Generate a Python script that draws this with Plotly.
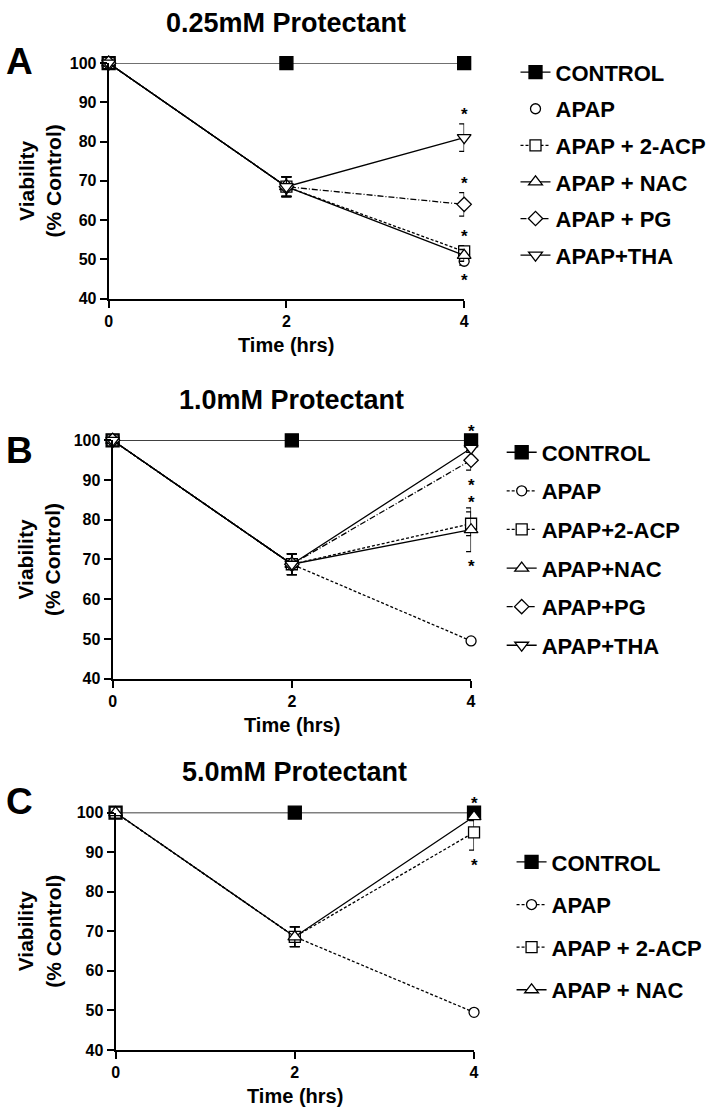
import plotly.graph_objects as go

W, H = 718, 1118
FONT = "Liberation Sans, Arial, sans-serif"

time = [0, 2, 4]
x_ticks = [0, 2, 4]
y_ticks = [40, 50, 60, 70, 80, 90, 100]

# ---- Panel A : 0.25 mM protectant ----
A_control = [100, 100, 100]
A_apap = [100, 68.5, 49.5]
A_acp = [100, 68.5, 52.0]
A_nac = [100, 68.5, 51.0]
A_pg = [100, 68.5, 64.0]
A_tha = [100, 68.5, 81.0]
A_apap_err = [0, 2.5, 1.0]
A_acp_err = [0, 2.5, 1.5]
A_nac_err = [0, 2.5, 1.5]
A_pg_err = [0, 2.5, 3.0]
A_tha_err = [0, 2.5, 3.5]
A_labels = ["CONTROL", "APAP", "APAP + 2-ACP", "APAP + NAC", "APAP + PG", "APAP+THA"]
A_stars = [("tha", "up"), ("pg", "up"), ("acp", "up"), ("apap", "down")]

# ---- Panel B : 1.0 mM protectant ----
B_control = [100, 100, 100]
B_apap = [100, 68.8, 49.5]
B_acp = [100, 68.8, 79.0]
B_nac = [100, 68.8, 77.5]
B_pg = [100, 68.8, 95.0]
B_tha = [100, 68.8, 98.0]
B_apap_err = [0, 2.6, 0.5]
B_acp_err = [0, 2.6, 3.0]
B_nac_err = [0, 2.6, 5.5]
B_pg_err = [0, 2.6, 2.5]
B_tha_err = [0, 2.6, 1.0]
B_labels = ["CONTROL", "APAP", "APAP+2-ACP", "APAP+NAC", "APAP+PG", "APAP+THA"]
B_stars = [("control", "up"), ("pg", "down"), ("acp", "up"), ("nac", "down")]

# ---- Panel C : 5.0 mM protectant ----
C_control = [100, 100, 100]
C_apap = [100, 68.6, 49.5]
C_acp = [100, 68.6, 95.0]
C_nac = [100, 68.6, 99.0]
C_apap_err = [0, 2.5, 0.5]
C_acp_err = [0, 2.5, 4.5]
C_nac_err = [0, 2.5, 1.0]
C_labels = ["CONTROL", "APAP", "APAP + 2-ACP", "APAP + NAC"]
C_stars = [("control", "up"), ("acp", "down")]

styles = {
    "control": dict(symbol="square", fill="black", size=13, dash="solid"),
    "apap": dict(symbol="circle", fill="white", size=10, dash="3px,2px"),
    "acp": dict(symbol="square", fill="white", size=11, dash="3px,2px"),
    "nac": dict(symbol="triangle-up", fill="white", size=12, dash="solid"),
    "pg": dict(symbol="diamond", fill="white", size=11, dash="6px,2px,1px,2px"),
    "tha": dict(symbol="triangle-down", fill="white", size=12, dash="solid"),
}

panels = [
    dict(key="A", title="0.25mM Protectant", xa="x", ya="y", leg="legend",
         keys=["control", "apap", "acp", "nac", "pg", "tha"],
         ys=[A_control, A_apap, A_acp, A_nac, A_pg, A_tha],
         errs=[None, A_apap_err, A_acp_err, A_nac_err, A_pg_err, A_tha_err],
         labels=A_labels, stars=A_stars, nolines=["apap"]),
    dict(key="B", title="1.0mM Protectant", xa="x2", ya="y2", leg="legend2",
         keys=["control", "apap", "acp", "nac", "pg", "tha"],
         ys=[B_control, B_apap, B_acp, B_nac, B_pg, B_tha],
         errs=[None, B_apap_err, B_acp_err, B_nac_err, B_pg_err, B_tha_err],
         labels=B_labels, stars=B_stars, nolines=[]),
    dict(key="C", title="5.0mM Protectant", xa="x3", ya="y3", leg="legend3",
         keys=["control", "apap", "acp", "nac"],
         ys=[C_control, C_apap, C_acp, C_nac],
         errs=[None, C_apap_err, C_acp_err, C_nac_err],
         labels=C_labels, stars=C_stars, nolines=[]),
]

fig = go.Figure()
annotations = []

for p in panels:
    for k, y, e, lab in zip(p["keys"], p["ys"], p["errs"], p["labels"]):
        st = styles[k]
        mode = "markers" if k in p["nolines"] else "lines+markers"
        tr = dict(
            x=time, y=y, name=lab, mode=mode,
            xaxis=p["xa"], yaxis=p["ya"], legend=p["leg"],
            legendgroup=p["key"] + k, cliponaxis=False,
            line=dict(color="black", width=1.3, dash=st["dash"]),
            marker=dict(symbol=st["symbol"], size=st["size"], color=st["fill"],
                        line=dict(color="black", width=1.3)),
        )
        if e is not None:
            tr["error_y"] = dict(type="data", array=e, visible=True, color="black",
                                 thickness=1.3, width=5)
        fig.add_trace(go.Scatter(**tr))
    # significance stars at time 4
    for k, d in p["stars"]:
        i = p["keys"].index(k)
        yv = p["ys"][i][2]
        ev = p["errs"][i][2] if p["errs"][i] is not None else 0
        if d == "up":
            ypos, shift = yv + ev, 9
        else:
            ypos, shift = yv - ev, -15
        annotations.append(dict(
            x=4, y=ypos, xref=p["xa"], yref=p["ya"], text="*", showarrow=False,
            yanchor="middle", yshift=shift,
            font=dict(family=FONT, size=17, color="black", weight="bold")))

axis_common = dict(showline=True, linewidth=2, linecolor="black", ticks="outside",
                   ticklen=7, tickwidth=2, tickcolor="black", showgrid=False,
                   zeroline=False,
                   tickfont=dict(family=FONT, size=16, color="black", weight="bold"))

# pixel layout of the three plot areas: (left, right, top, bottom)
boxes = {"A": (106, 466, 56, 295), "B": (110, 473, 439, 681), "C": (113, 476, 817, 1058)}
letter_y = {"A": 54, "B": 449, "C": 806}
legend_pos = {"A": (518, 44, 5), "B": (504, 430, 7), "C": (514, 846, 11)}

layout = dict(width=W, height=H, margin=dict(l=0, r=0, t=0, b=0),
              paper_bgcolor="white", plot_bgcolor="white", showlegend=True)

for idx, p in enumerate(panels):
    l, r, t, b = boxes[p["key"]]
    sfx = "" if idx == 0 else str(idx + 1)
    layout["xaxis" + sfx] = dict(axis_common, domain=[l / W, r / W], range=[0, 4],
                                 tickvals=x_ticks, anchor=p["ya"])
    layout["yaxis" + sfx] = dict(axis_common, domain=[1 - b / H, 1 - t / H], range=[40, 100],
                                 tickvals=y_ticks, anchor=p["xa"])
    lx, ly, gap = legend_pos[p["key"]]
    layout[p["leg"]] = dict(x=lx / W, y=1 - ly / H, xanchor="left", yanchor="top",
                            tracegroupgap=gap, itemwidth=30, bgcolor="rgba(0,0,0,0)",
                            font=dict(family=FONT, size=22, color="black", weight="bold"))
    xd = p["xa"] + " domain"
    # panel title
    annotations.append(dict(x=0.5, xref=xd, y=1 - (t - 41) / H, yref="paper",
                            text=p["title"], showarrow=False, yanchor="middle",
                            font=dict(family=FONT, size=27, color="black", weight="bold")))
    # x-axis title
    annotations.append(dict(x=0.5, xref=xd, y=1 - (b + 47) / H, yref="paper",
                            text="Time (hrs)", showarrow=False, yanchor="middle",
                            font=dict(family=FONT, size=20, color="black", weight="bold")))
    # y-axis title
    annotations.append(dict(x=36 / W, xref="paper", y=1 - ((t + b) / 2) / H, yref="paper",
                            text="Viability<br>(% Control)", showarrow=False, textangle=-90,
                            xanchor="center", yanchor="middle",
                            font=dict(family=FONT, size=21, color="black", weight="bold")))
    # panel letter
    annotations.append(dict(x=16 / W, xref="paper", y=1 - letter_y[p["key"]] / H, yref="paper",
                            text=p["key"], showarrow=False, xanchor="center", yanchor="middle",
                            font=dict(family=FONT, size=37, color="black", weight="bold")))

layout["annotations"] = annotations
fig.update_layout(**layout)
fig.write_html("out.html", config={"displayModeBar": False},
               post_script="document.body.style.margin='0';document.body.style.overflow='hidden';")
